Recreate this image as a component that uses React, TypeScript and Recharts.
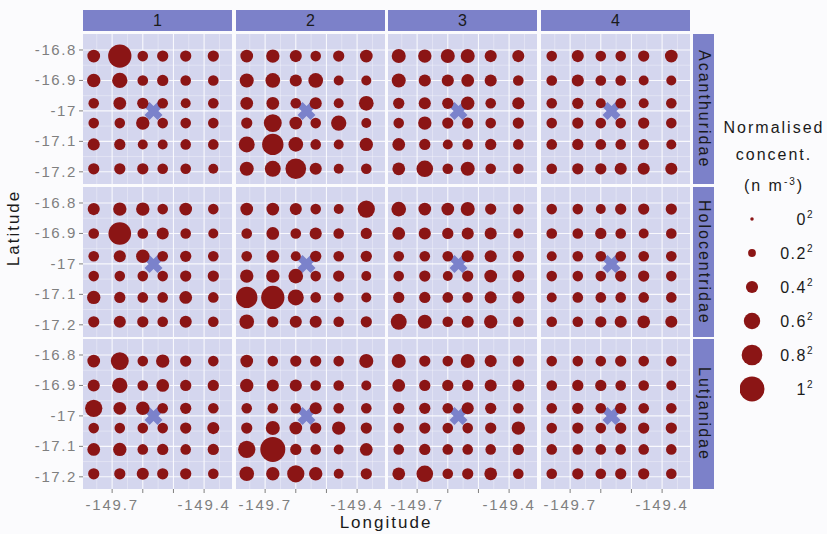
import React from 'react';
import { ScatterChart, Scatter, XAxis, YAxis, ZAxis, CartesianGrid, ReferenceLine } from 'recharts';

const periods = ['1', '2', '3', '4'];
const families = ['Acanthuridae', 'Holocentridae', 'Lutjanidae'];

// sampling stations (west -> east, north -> south)
const lons = [-149.76, -149.675, -149.6, -149.535, -149.46, -149.37];
const lats = [-16.82, -16.9, -16.975, -17.04, -17.11, -17.19];
const release = [{ lon: -149.565, lat: -17.0 }];

const lonTicks = [-149.7, -149.6, -149.5, -149.4];
const lonLabels = ['-149.7', '', '', '-149.4'];
const lonMinor = [-149.75, -149.65, -149.55, -149.45, -149.35];
const latTicks = [-16.8, -16.9, -17, -17.1, -17.2];
const latMinor = [-16.85, -16.95, -17.05, -17.15];

const legendValues = [0, 0.2, 0.4, 0.6, 0.8, 1];
const legendLabels = ['0', '0.2', '0.4', '0.6', '0.8', '1'];

// sqrt of normalised concentration, rows north -> south
const acan1 = [
  [0.43, 0.92, 0.33, 0.36, 0.36, 0.36],
  [0.46, 0.55, 0.33, 0.36, 0.33, 0.33],
  [0.33, 0.43, 0.36, 0.33, 0.3, 0.33],
  [0.33, 0.33, 0.46, 0.33, 0.33, 0.33],
  [0.4, 0.36, 0.3, 0.3, 0.33, 0.33],
  [0.36, 0.36, 0.36, 0.33, 0.33, 0.3],
];
const acan2 = [
  [0.43, 0.46, 0.4, 0.33, 0.36, 0.43],
  [0.49, 0.52, 0.4, 0.52, 0.3, 0.3],
  [0.43, 0.43, 0.33, 0.4, 0.3, 0.52],
  [0.36, 0.67, 0.43, 0.33, 0.55, 0.3],
  [0.58, 0.83, 0.52, 0.33, 0.3, 0.46],
  [0.49, 0.58, 0.8, 0.4, 0.3, 0.33],
];
const acan3 = [
  [0.49, 0.46, 0.49, 0.49, 0.4, 0.4],
  [0.49, 0.4, 0.4, 0.43, 0.4, 0.33],
  [0.36, 0.4, 0.36, 0.46, 0.33, 0.4],
  [0.33, 0.46, 0.36, 0.36, 0.33, 0.36],
  [0.43, 0.36, 0.3, 0.33, 0.36, 0.33],
  [0.43, 0.61, 0.33, 0.49, 0.33, 0.33],
];
const acan4 = [
  [0.33, 0.4, 0.33, 0.33, 0.36, 0.43],
  [0.33, 0.4, 0.33, 0.33, 0.3, 0.3],
  [0.33, 0.36, 0.3, 0.33, 0.3, 0.33],
  [0.33, 0.36, 0.33, 0.33, 0.36, 0.33],
  [0.33, 0.36, 0.33, 0.33, 0.33, 0.3],
  [0.33, 0.36, 0.36, 0.4, 0.4, 0.4],
];
const holo1 = [
  [0.4, 0.46, 0.46, 0.33, 0.43, 0.33],
  [0.33, 0.89, 0.33, 0.4, 0.33, 0.3],
  [0.33, 0.4, 0.46, 0.33, 0.36, 0.33],
  [0.33, 0.33, 0.33, 0.33, 0.36, 0.36],
  [0.46, 0.36, 0.33, 0.33, 0.43, 0.33],
  [0.36, 0.4, 0.36, 0.33, 0.4, 0.33],
];
const holo2 = [
  [0.43, 0.43, 0.4, 0.33, 0.3, 0.64],
  [0.33, 0.43, 0.33, 0.4, 0.33, 0.36],
  [0.33, 0.43, 0.3, 0.36, 0.33, 0.36],
  [0.46, 0.46, 0.52, 0.33, 0.36, 0.3],
  [0.83, 0.92, 0.58, 0.33, 0.3, 0.3],
  [0.52, 0.36, 0.4, 0.4, 0.33, 0.36],
];
const holo3 = [
  [0.52, 0.43, 0.43, 0.49, 0.36, 0.33],
  [0.43, 0.4, 0.36, 0.4, 0.4, 0.3],
  [0.33, 0.33, 0.33, 0.4, 0.4, 0.36],
  [0.33, 0.36, 0.3, 0.36, 0.43, 0.4],
  [0.36, 0.36, 0.33, 0.33, 0.4, 0.4],
  [0.58, 0.49, 0.33, 0.4, 0.46, 0.33],
];
const holo4 = [
  [0.33, 0.33, 0.3, 0.36, 0.36, 0.36],
  [0.33, 0.33, 0.36, 0.33, 0.3, 0.33],
  [0.3, 0.33, 0.33, 0.33, 0.33, 0.33],
  [0.33, 0.33, 0.33, 0.36, 0.36, 0.33],
  [0.3, 0.33, 0.33, 0.33, 0.33, 0.33],
  [0.33, 0.33, 0.36, 0.4, 0.43, 0.4],
];
const lutj1 = [
  [0.43, 0.67, 0.33, 0.46, 0.36, 0.33],
  [0.4, 0.55, 0.33, 0.43, 0.36, 0.36],
  [0.64, 0.43, 0.46, 0.33, 0.36, 0.33],
  [0.33, 0.33, 0.33, 0.33, 0.36, 0.4],
  [0.43, 0.46, 0.33, 0.36, 0.33, 0.36],
  [0.36, 0.36, 0.4, 0.36, 0.36, 0.33],
];
const lutj2 = [
  [0.43, 0.33, 0.36, 0.36, 0.33, 0.49],
  [0.46, 0.4, 0.4, 0.33, 0.33, 0.3],
  [0.33, 0.33, 0.33, 0.4, 0.33, 0.33],
  [0.36, 0.49, 0.43, 0.36, 0.46, 0.36],
  [0.64, 1.0, 0.36, 0.33, 0.3, 0.43],
  [0.52, 0.46, 0.64, 0.46, 0.3, 0.36],
];
const lutj3 = [
  [0.49, 0.36, 0.33, 0.49, 0.4, 0.36],
  [0.43, 0.36, 0.36, 0.36, 0.4, 0.4],
  [0.36, 0.36, 0.33, 0.4, 0.36, 0.33],
  [0.33, 0.36, 0.33, 0.33, 0.36, 0.46],
  [0.33, 0.36, 0.33, 0.33, 0.33, 0.36],
  [0.43, 0.61, 0.33, 0.36, 0.43, 0.33],
];
const lutj4 = [
  [0.33, 0.33, 0.33, 0.36, 0.33, 0.33],
  [0.33, 0.36, 0.36, 0.33, 0.33, 0.3],
  [0.33, 0.36, 0.33, 0.36, 0.33, 0.33],
  [0.33, 0.36, 0.33, 0.36, 0.36, 0.36],
  [0.33, 0.33, 0.33, 0.33, 0.33, 0.33],
  [0.33, 0.36, 0.33, 0.36, 0.36, 0.33],
];

const grids = [
  [acan1, acan2, acan3, acan4],
  [holo1, holo2, holo3, holo4],
  [lutj1, lutj2, lutj3, lutj4],
];

const FONT = '"Liberation Sans", Arial, Helvetica, sans-serif';
const PANEL_BG = '#d4d6ee';
const STRIP = '#7c81c9';
const DOT = '#8b1515';
const CROSS = '#7b82cb';
const GREY = '#7f7f7f';

const PW = 149;
const PH = 150;
const colLeft = [83, 236, 388, 541];
const rowTop = [34, 187, 339];
const LON_DOMAIN = [-149.795, -149.309];
const LAT_DOMAIN = [-17.24, -16.7475];
// radius in px, linear in the root value (like ggplot's scale_size)
const R_RANGE = [1.75, 12.5];

const toPoints = (grid: number[][]) =>
  grid.flatMap((row, i) => row.map((v, j) => ({ lon: lons[j], lat: lats[i], v })));

const renderDot = (props: any) => <circle cx={props.cx} cy={props.cy} r={props.size} fill={DOT} />;

const LatTick = (props: any) => {
  const { x, y, payload } = props;
  return (
    <text x={x} y={y} dy={5} textAnchor="end" fill={GREY} fontSize={15} style={{ letterSpacing: '1.6px' }}>
      {String(payload.value)}
    </text>
  );
};

const LonTick = (props: any) => {
  const { x, y, payload } = props;
  const label = lonLabels[lonTicks.indexOf(payload.value)];
  return (
    <text x={x} y={y} dy={15} textAnchor="middle" fill={GREY} fontSize={15} style={{ letterSpacing: '1.8px' }}>
      {label}
    </text>
  );
};

const LegendTick = (props: any) => {
  const { x, y, payload } = props;
  return (
    <text x={x + 50} y={y} dy={6} textAnchor="end" fill="#1a1a1a" fontSize={16} style={{ letterSpacing: '1.5px' }}>
      <tspan>{legendLabels[payload.value]}</tspan>
      <tspan dy={-7} fontSize={10}>2</tspan>
    </text>
  );
};

const renderCross = (props: any) => {
  const { cx, cy } = props;
  const a = 6.5;
  return (
    <path
      d={`M${cx - a},${cy - a}L${cx + a},${cy + a}M${cx + a},${cy - a}L${cx - a},${cy + a}`}
      stroke={CROSS}
      strokeWidth={7}
      fill="none"
    />
  );
};

function Panel({ grid, col, row }: { grid: number[][]; col: number; row: number }) {
  const showY = col === 0;
  const showX = row === 2;
  const yW = showY ? 60 : 0;
  const xH = showX ? 30 : 0;
  const points = toPoints(grid);
  return (
    <div style={{ position: 'absolute', left: colLeft[col] - yW, top: rowTop[row] }}>
      <ScatterChart width={PW + yW} height={PH + xH} margin={{ top: 0, right: 0, bottom: 0, left: 0 }}>
        <CartesianGrid fill={PANEL_BG} stroke="none" horizontal={false} vertical={false} />
        {latMinor.map((v) => (
          <ReferenceLine key={`ym${v}`} y={v} stroke="#ffffff" strokeOpacity={0.55} strokeWidth={0.6} />
        ))}
        {lonMinor.map((v) => (
          <ReferenceLine key={`xm${v}`} x={v} stroke="#ffffff" strokeOpacity={0.55} strokeWidth={0.6} />
        ))}
        {latTicks.map((v) => (
          <ReferenceLine key={`y${v}`} y={v} stroke="#ffffff" strokeOpacity={0.85} strokeWidth={1.1} />
        ))}
        {lonTicks.map((v) => (
          <ReferenceLine key={`x${v}`} x={v} stroke="#ffffff" strokeOpacity={0.85} strokeWidth={1.1} />
        ))}
        <XAxis
          type="number"
          dataKey="lon"
          domain={LON_DOMAIN}
          ticks={lonTicks}
          hide={!showX}
          height={xH}
          axisLine={false}
          tickLine={{ stroke: GREY }}
          tickSize={4}
          tickMargin={2}
          tick={<LonTick />}
          interval={0}
        />
        <YAxis
          type="number"
          dataKey="lat"
          domain={LAT_DOMAIN}
          ticks={latTicks}
          hide={!showY}
          width={yW}
          axisLine={false}
          tickLine={{ stroke: GREY }}
          tickSize={4}
          tickMargin={2}
          tick={<LatTick />}
          interval={0}
        />
        <ZAxis type="number" dataKey="v" domain={[0, 1]} range={R_RANGE} />
        <Scatter data={release} shape={renderCross} isAnimationActive={false} />
        <Scatter data={points} shape={renderDot} isAnimationActive={false} />
      </ScatterChart>
    </div>
  );
}

export default function App() {
  const legendData = legendValues.map((v, i) => ({ x: 0, k: i, v }));
  return (
    <div
      style={{
        position: 'absolute',
        left: 0,
        top: 0,
        width: 827,
        height: 534,
        background: '#fbfbfd',
        fontFamily: FONT,
        overflow: 'hidden',
      }}
    >
      {periods.map((p, c) => (
        <div
          key={p}
          style={{
            position: 'absolute',
            left: colLeft[c],
            top: 10,
            width: PW,
            height: 21,
            background: STRIP,
            display: 'flex',
            alignItems: 'center',
            justifyContent: 'center',
            fontSize: 16,
            color: '#1a1a1a',
          }}
        >
          {p}
        </div>
      ))}
      {families.map((f, r) => (
        <div
          key={f}
          style={{
            position: 'absolute',
            left: 693,
            top: rowTop[r],
            width: 21,
            height: PH,
            background: STRIP,
            display: 'flex',
            alignItems: 'center',
            justifyContent: 'center',
          }}
        >
          <span style={{ writingMode: 'vertical-rl', fontSize: 16, letterSpacing: '2px', color: '#1a1a1a' }}>{f}</span>
        </div>
      ))}
      {grids.map((rowGrids, r) =>
        rowGrids.map((g, c) => <Panel key={`${r}-${c}`} grid={g} col={c} row={r} />)
      )}
      <div
        style={{
          position: 'absolute',
          left: 14,
          top: 228,
          transform: 'translate(-50%, -50%) rotate(-90deg)',
          fontSize: 17,
          letterSpacing: '2px',
          color: '#1a1a1a',
          whiteSpace: 'nowrap',
        }}
      >
        Latitude
      </div>
      <div
        style={{
          position: 'absolute',
          left: 386,
          top: 523,
          transform: 'translate(-50%, -50%)',
          fontSize: 17,
          letterSpacing: '2px',
          color: '#1a1a1a',
          whiteSpace: 'nowrap',
        }}
      >
        Longitude
      </div>
      <div
        style={{
          position: 'absolute',
          left: 720,
          top: 114,
          width: 108,
          textAlign: 'center',
          fontSize: 16,
          lineHeight: '27px',
          letterSpacing: '2px',
          color: '#1a1a1a',
        }}
      >
        <div>Normalised</div>
        <div>concent.</div>
        <div>
          (n m<sup style={{ fontSize: 10 }}>-3</sup>)
        </div>
      </div>
      <div style={{ position: 'absolute', left: 740, top: 202 }}>
        <ScatterChart width={76} height={204} margin={{ top: 0, right: 0, bottom: 0, left: 0 }}>
          <XAxis type="number" dataKey="x" domain={[-1, 1]} hide />
          <YAxis
            type="number"
            dataKey="k"
            domain={[-0.5, 5.5]}
            reversed
            ticks={[0, 1, 2, 3, 4, 5]}
            orientation="right"
            width={52}
            tickSize={0}
            tickMargin={0}
            axisLine={false}
            tickLine={false}
            tick={<LegendTick />}
            interval={0}
          />
          <ZAxis type="number" dataKey="v" domain={[0, 1]} range={R_RANGE} />
          <Scatter data={legendData} shape={renderDot} isAnimationActive={false} />
        </ScatterChart>
      </div>
    </div>
  );
}
